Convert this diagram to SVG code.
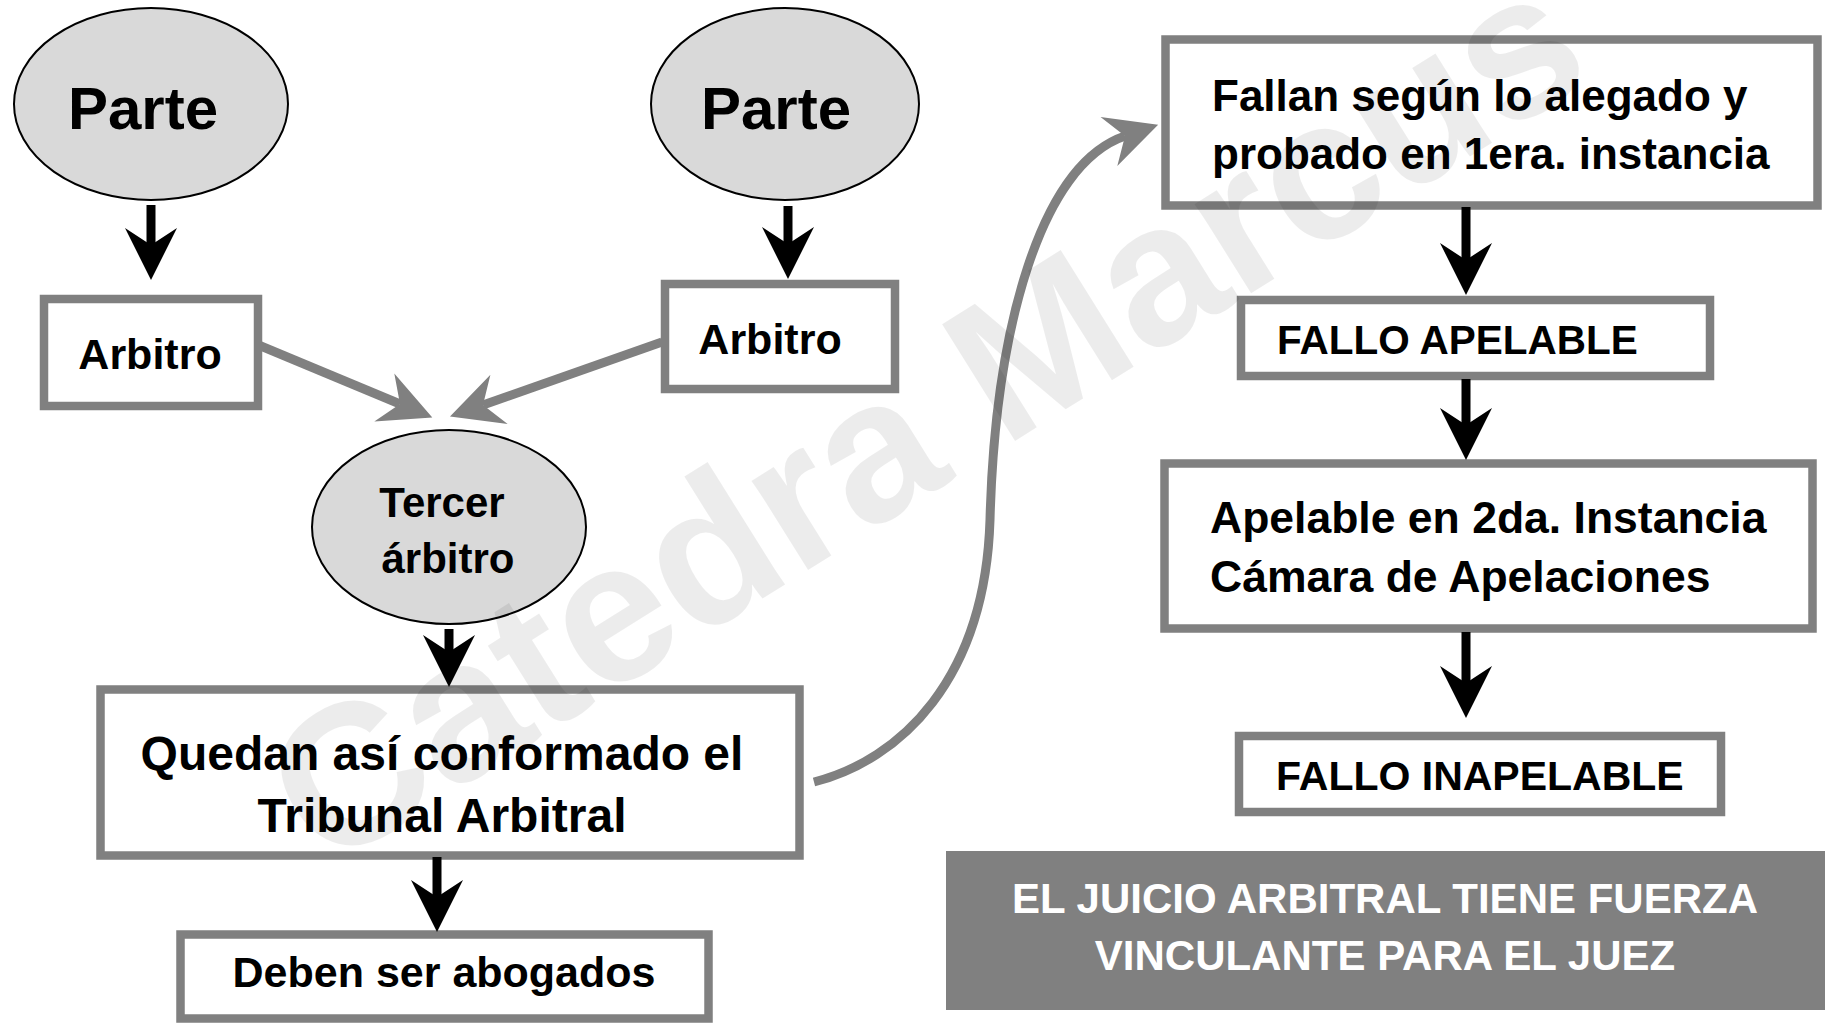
<svg xmlns="http://www.w3.org/2000/svg" width="1825" height="1024" viewBox="0 0 1825 1024">
<style>
.box{fill:none;stroke:#808080;stroke-width:8.5}
.ell{fill:#d9d9d9;stroke:#000;stroke-width:2}
.t{font-family:"Liberation Sans",Arial,sans-serif;font-weight:bold;fill:#000}
.c{text-anchor:middle}
.blk{stroke:#000;stroke-width:9;fill:none}
.gry{stroke:#808080;stroke-width:9;fill:none}
.wm{font-family:"Liberation Sans",Arial,sans-serif;font-weight:bold;fill:#000;fill-opacity:0.075}
</style>
<defs>
<marker id="hb" markerUnits="userSpaceOnUse" orient="auto" refX="0" refY="0" markerWidth="60" markerHeight="60" overflow="visible">
<path d="M35,0 L-17,-26 L0,0 L-17,26 Z" fill="#000"/>
</marker>
<marker id="hg" markerUnits="userSpaceOnUse" orient="auto" refX="0" refY="0" markerWidth="60" markerHeight="60" overflow="visible">
<path d="M35,0 L-17,-26 L0,0 L-17,26 Z" fill="#808080"/>
</marker>
</defs>
<rect width="1825" height="1024" fill="#fff"/>

<g id="nodes">
<g id="parte1"><ellipse class="ell" cx="151" cy="104" rx="137" ry="96"/><text class="t c" x="143" y="129" font-size="60">Parte</text></g>
<g id="parte2"><ellipse class="ell" cx="785" cy="104" rx="134" ry="96"/><text class="t c" x="776" y="129" font-size="60">Parte</text></g>
<g id="arbitro1"><rect class="box" x="44" y="299" width="214" height="107"/><text class="t c" x="150" y="369" font-size="43">Arbitro</text></g>
<g id="arbitro2"><rect class="box" x="665" y="284" width="230" height="105"/><text class="t c" x="770" y="354" font-size="43">Arbitro</text></g>
<g id="tercer"><ellipse class="ell" cx="449" cy="527" rx="137" ry="97"/><text class="t c" font-size="42"><tspan x="442" y="517">Tercer</tspan><tspan x="448" y="573">árbitro</tspan></text></g>
<g id="tribunal"><rect class="box" x="100.5" y="689.5" width="699" height="166" stroke-width="9"/><text class="t c" font-size="48"><tspan x="442" y="770">Quedan así conformado el</tspan><tspan x="442" y="832">Tribunal Arbitral</tspan></text></g>
<g id="abogados"><rect class="box" x="180.5" y="934.5" width="528" height="84" stroke-width="9"/><text class="t c" x="444" y="987" font-size="43">Deben ser abogados</text></g>
<g id="fallan"><rect class="box" x="1165.5" y="39.5" width="652" height="166" stroke-width="9"/><text class="t" font-size="44"><tspan x="1212" y="111">Fallan según lo alegado y</tspan><tspan x="1212" y="169">probado en 1era. instancia</tspan></text></g>
<g id="apelable"><rect class="box" x="1241" y="300" width="469" height="76"/><text class="t" x="1277" y="354" font-size="40.5">FALLO APELABLE</text></g>
<g id="segunda"><rect class="box" x="1164.5" y="463.5" width="648" height="165" stroke-width="9"/><text class="t" font-size="44.5"><tspan x="1210" y="533">Apelable en 2da. Instancia</tspan><tspan x="1210" y="592">Cámara de Apelaciones</tspan></text></g>
<g id="inapelable"><rect class="box" x="1239" y="736" width="482" height="76"/><text class="t" x="1276" y="790" font-size="41">FALLO INAPELABLE</text></g>
<g id="banner"><rect x="946" y="851" width="879" height="159" fill="#808080"/><text class="t c" font-size="42" style="fill:#fff"><tspan x="1385" y="913">EL JUICIO ARBITRAL TIENE FUERZA</tspan><tspan x="1385" y="970">VINCULANTE PARA EL JUEZ</tspan></text></g>
</g>

<g id="connectors">
<line class="blk" x1="151" y1="205" x2="151" y2="245" marker-end="url(#hb)"/>
<line class="blk" x1="788" y1="206" x2="788" y2="244" marker-end="url(#hb)"/>
<line class="blk" x1="449" y1="629" x2="449" y2="652" marker-end="url(#hb)"/>
<line class="blk" x1="437" y1="857" x2="437" y2="897" marker-end="url(#hb)"/>
<line class="blk" x1="1466" y1="207" x2="1466" y2="260" marker-end="url(#hb)"/>
<line class="blk" x1="1466" y1="379" x2="1466" y2="425" marker-end="url(#hb)"/>
<line class="blk" x1="1466" y1="632" x2="1466" y2="683" marker-end="url(#hb)"/>
<line class="gry" x1="256" y1="344" x2="400" y2="404" marker-end="url(#hg)"/>
<line class="gry" x1="662" y1="342" x2="483" y2="405" marker-end="url(#hg)"/>
<path class="gry" d="M814 782 C900 760 985 680 990 520 C995 330 1040 165 1125 136" marker-end="url(#hg)"/>
</g>

<text class="wm" transform="translate(325 872) rotate(-32)" font-size="200">Catedra Marcus</text>
</svg>
